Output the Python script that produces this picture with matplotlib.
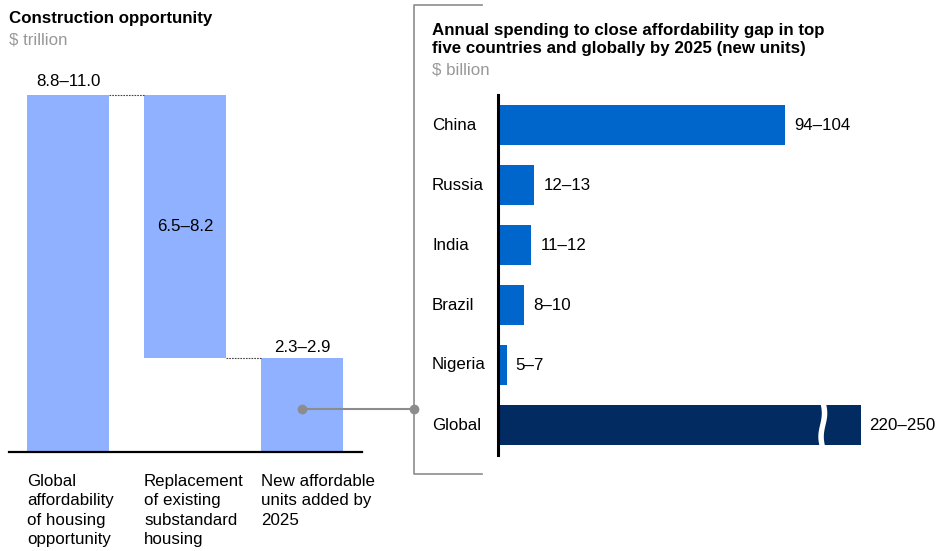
import numpy as np
import matplotlib
matplotlib.use("Agg")
import matplotlib.pyplot as plt
from matplotlib.lines import Line2D
from matplotlib.patches import Polygon

plt.rcParams['font.family'] = ['Liberation Sans', 'DejaVu Sans']

# ---------------- data ----------------
wf_labels = ["Global\naffordability\nof housing\nopportunity",
             "Replacement\nof existing\nsubstandard\nhousing",
             "New affordable\nunits added by\n2025"]
wf_ranges = ["8.8–11.0", "6.5–8.2", "2.3–2.9"]
wf_total = 9.9
wf_replacement = 7.3
wf_new = 2.6

countries = ["China", "Russia", "India", "Brazil", "Nigeria", "Global"]
spend_values = [99, 12.5, 11.5, 9, 3, 235]
spend_labels = ["94–104", "12–13", "11–12", "8–10", "5–7", "220–250"]

# ---------------- style ----------------
W, H = 936, 551
DPI = 100
LIGHT = "#8FB1FF"
MID = "#0066CC"
NAVY = "#022B62"
GRAY = "#8C8C8C"
TXT_GRAY = "#999999"
FS = 12.2

fig = plt.figure(figsize=(W / DPI, H / DPI), dpi=DPI)


def fx(x):
    return x / W


def fy(y):
    return 1 - y / H


def add_axes_px(x0, y0, x1, y1):
    return fig.add_axes([fx(x0), fy(y1), (x1 - x0) / W, (y1 - y0) / H])


# ---------------- left: waterfall ----------------
axL = add_axes_px(9, 95, 362, 452)
axL.set_xlim(-0.504, 2.513)
axL.set_ylim(0, wf_total)
axL.axis("off")
bw = 0.70
xs = [0, 1, 2]
bottoms = [0, wf_new, 0]
heights = [wf_total, wf_replacement, wf_new]
axL.bar(xs, heights, bottom=bottoms, width=bw, color=LIGHT, edgecolor="none", zorder=2)
axL.plot([-0.504, 2.513], [0, 0], color="black", lw=1.6, clip_on=False, zorder=3)
# dotted connectors
axL.plot([0 + bw / 2, 1 - bw / 2], [wf_total, wf_total], color="#444444", lw=0.8,
         ls=(0, (1.5, 1)), clip_on=False)
axL.plot([1 + bw / 2, 2 - bw / 2], [wf_new, wf_new], color="#444444", lw=0.8,
         ls=(0, (1.5, 1)), clip_on=False)
# value labels
axL.annotate(wf_ranges[0], (0, wf_total), xytext=(0, 4.5), textcoords="offset points",
             ha="center", va="bottom", fontsize=FS, annotation_clip=False)
axL.text(1, wf_new + wf_replacement / 2, wf_ranges[1], ha="center", va="center", fontsize=FS)
axL.annotate(wf_ranges[2], (2, wf_new), xytext=(0, 2), textcoords="offset points",
             ha="center", va="bottom", fontsize=FS, annotation_clip=False)
# category labels
for x, lab in zip(xs, wf_labels):
    axL.annotate(lab, (x - bw / 2, 0), xytext=(0, -15.5), textcoords="offset points",
                 ha="left", va="top", fontsize=FS, linespacing=1.38, annotation_clip=False)

fig.text(fx(9), fy(19), "Construction opportunity", fontsize=FS, fontweight="bold",
         ha="left", va="center")
fig.text(fx(9), fy(40), "$ trillion", fontsize=FS, color=TXT_GRAY, ha="left", va="center")

# ---------------- connector and bracket ----------------
cy = 409
fig.add_artist(Line2D([fx(302), fx(414)], [fy(cy), fy(cy)], color=GRAY, lw=1.5))
fig.add_artist(Line2D([fx(302), fx(414)], [fy(cy), fy(cy)], color=GRAY, lw=0,
                      marker="o", markersize=6))
fig.add_artist(Line2D([fx(482), fx(414), fx(414), fx(482)],
                      [fy(5), fy(5), fy(474), fy(474)], color=GRAY, lw=1.2))

# ---------------- right: horizontal bars ----------------
px_per_unit = 2.9
axR = add_axes_px(498, 95, 936, 455)
axR.set_xlim(0, (936 - 498) / px_per_unit)
axR.set_ylim(5.5, -0.5)
axR.axis("off")

break_at = 112
tail = 13
ys = np.arange(len(countries))
disp = []
for c, v in zip(countries, spend_values):
    disp.append(break_at + tail if c == "Global" else v)
colors = [MID] * 5 + [NAVY]
bh = 0.68
axR.barh(ys, disp, height=bh, color=colors, edgecolor="none", zorder=2)
axR.plot([0, 0], [-0.5, 5.5], color="black", lw=2.2, clip_on=False, zorder=3)

# wavy break on Global bar
gy = ys[-1]
t = np.linspace(0, 1, 60)
yy = gy - bh / 2 - 0.05 + t * (bh + 0.1)
amp = 0.6
wave = amp * np.sin(2 * np.pi * t)
gap = 1.9
left_edge = np.column_stack([break_at - gap / 2 + wave, yy])
right_edge = np.column_stack([break_at + gap / 2 + wave, yy])[::-1]
axR.add_patch(Polygon(np.vstack([left_edge, right_edge]), closed=True,
                      facecolor="white", edgecolor="none", zorder=4))

for y, d, lab in zip(ys, disp, spend_labels):
    axR.annotate(lab, (d, y), xytext=(6.5, 0), textcoords="offset points",
                 ha="left", va="center", fontsize=FS, annotation_clip=False)
for y, c in zip(ys, countries):
    axR.annotate(c, (0, y), xytext=(-47.5, 0), textcoords="offset points",
                 ha="left", va="center", fontsize=FS, annotation_clip=False)

fig.text(fx(432), fy(39.5), "Annual spending to close affordability gap in top\n"
         "five countries and globally by 2025 (new units)", fontsize=FS,
         fontweight="bold", ha="left", va="center", linespacing=1.33)
fig.text(fx(432), fy(69.5), "$ billion", fontsize=FS, color=TXT_GRAY, ha="left", va="center")

fig.savefig("out.png", dpi=DPI)
